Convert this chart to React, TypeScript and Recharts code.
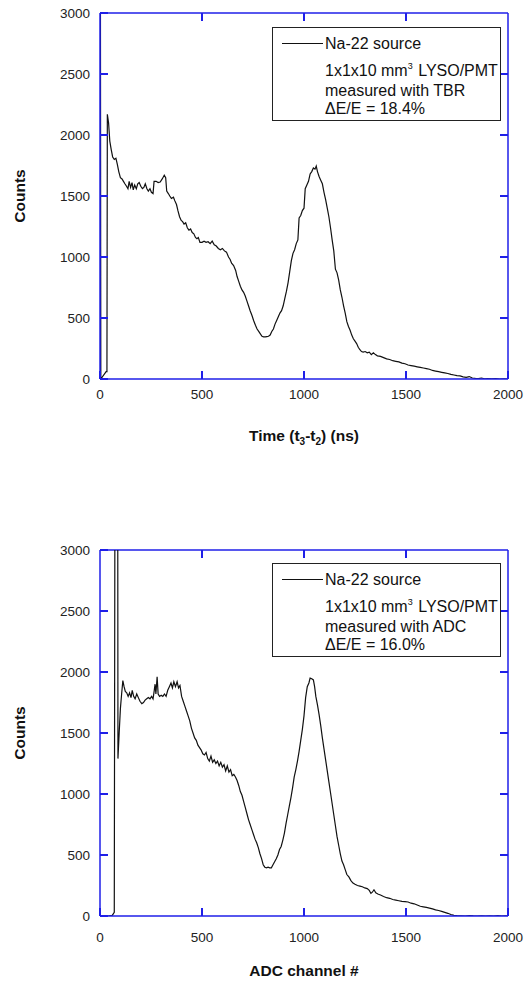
import React from 'react';
import { LineChart, Line, XAxis, YAxis, Legend, ReferenceLine } from 'recharts';

// ---------- data ----------
const xTicks = [0, 500, 1000, 1500, 2000];
const yTicks = [0, 500, 1000, 1500, 2000, 2500, 3000];
const xMax = 2000;
const yMax = 3000;

const tbrX = [0, 2, 4, 30, 34, 36, 42, 48, 55, 62, 70, 78, 85, 92, 100, 108, 115, 122, 130, 137, 143, 150, 157, 163, 170, 178, 185, 192, 200, 208, 215, 222, 230, 237, 245, 252, 260, 265, 275, 285, 295, 305, 315, 322, 327, 335, 342, 350, 360, 367, 375, 382, 390, 398, 405, 412, 420, 428, 436, 444, 452, 460, 468, 475, 482, 490, 500, 510, 520, 530, 540, 550, 560, 570, 580, 590, 600, 610, 620, 630, 638, 645, 655, 665, 672, 680, 688, 696, 704, 712, 720, 728, 736, 745, 753, 762, 770, 778, 786, 794, 802, 810, 818, 826, 834, 842, 850, 858, 866, 874, 882, 890, 898, 906, 914, 922, 930, 938, 946, 954, 962, 970, 976, 984, 992, 1000, 1006, 1014, 1022, 1030, 1038, 1046, 1054, 1060, 1066, 1074, 1082, 1090, 1098, 1106, 1114, 1122, 1130, 1138, 1146, 1154, 1162, 1170, 1178, 1186, 1194, 1202, 1210, 1218, 1226, 1234, 1242, 1250, 1258, 1266, 1274, 1282, 1290, 1300, 1310, 1320, 1330, 1340, 1350, 1360, 1375, 1390, 1405, 1420, 1435, 1450, 1465, 1480, 1495, 1510, 1525, 1540, 1555, 1570, 1585, 1600, 1615, 1630, 1645, 1660, 1675, 1690, 1705, 1720, 1735, 1750, 1765, 1780, 1795, 1810, 1825, 1840, 1855, 1870, 1885, 1900, 1920, 1940, 1960, 1980, 2000];
const tbrCounts = [0, 3300, 0, 60, 60, 2170, 2100, 1950, 1880, 1820, 1800, 1810, 1760, 1700, 1650, 1640, 1620, 1600, 1580, 1560, 1620, 1570, 1610, 1550, 1590, 1560, 1600, 1610, 1580, 1560, 1570, 1600, 1560, 1540, 1560, 1530, 1520, 1620, 1620, 1610, 1615, 1640, 1670, 1650, 1540, 1520, 1500, 1480, 1490, 1460, 1430, 1380, 1330, 1300, 1290, 1270, 1280, 1240, 1220, 1230, 1200, 1190, 1160, 1150, 1160, 1120, 1120, 1130, 1120, 1125, 1110, 1130, 1100, 1090, 1070, 1060, 1070, 1050, 1040, 1000, 980, 950, 930, 890, 840, 800, 760, 730, 710, 680, 640, 600, 560, 520, 480, 440, 410, 390, 370, 350, 345, 345, 348, 350, 360, 390, 410, 450, 480, 510, 540, 560, 600, 660, 720, 790, 880, 970, 1030, 1060, 1110, 1140, 1320, 1340, 1380, 1400, 1560, 1590, 1620, 1680, 1700, 1730, 1720, 1745, 1700, 1660, 1630, 1600, 1530, 1470, 1400, 1330, 1240, 1140, 1050, 900, 870, 810, 730, 670, 600, 540, 470, 430, 400, 360, 330, 310, 290, 260, 240, 225, 220, 225, 215, 220, 200, 215, 200, 190, 185, 175, 165, 160, 150, 145, 140, 130, 125, 115, 110, 105, 100, 95, 90, 85, 80, 70, 65, 60, 55, 50, 45, 38, 33, 28, 25, 18, 14, 20, 8, 5, 3, 8, 2, 4, 1, 3, 0, 1, 0];

const adcX = [0, 20, 40, 60, 70, 73, 87, 88, 94, 100, 106, 112, 118, 124, 131, 138, 145, 152, 158, 165, 172, 180, 188, 196, 205, 213, 221, 229, 237, 245, 253, 260, 266, 270, 274, 280, 285, 292, 300, 308, 316, 324, 332, 340, 348, 355, 362, 370, 378, 385, 392, 400, 408, 416, 424, 432, 440, 448, 456, 464, 472, 480, 488, 496, 504, 512, 520, 528, 536, 544, 552, 560, 568, 576, 584, 592, 600, 608, 616, 624, 632, 640, 648, 656, 664, 672, 680, 688, 696, 704, 712, 720, 728, 736, 744, 752, 760, 768, 776, 784, 792, 800, 808, 816, 824, 832, 840, 848, 856, 864, 872, 880, 888, 896, 904, 912, 920, 928, 936, 944, 952, 960, 968, 976, 984, 992, 1000, 1008, 1016, 1024, 1030, 1038, 1046, 1052, 1058, 1066, 1074, 1082, 1090, 1098, 1106, 1114, 1122, 1130, 1138, 1146, 1154, 1162, 1170, 1178, 1186, 1194, 1202, 1210, 1220, 1230, 1240, 1250, 1262, 1274, 1286, 1298, 1310, 1320, 1328, 1335, 1343, 1352, 1362, 1375, 1390, 1405, 1420, 1435, 1450, 1465, 1480, 1495, 1510, 1525, 1540, 1555, 1570, 1585, 1600, 1615, 1630, 1645, 1660, 1675, 1690, 1705, 1720, 1735, 1750, 1770, 1790, 1810, 1830, 1850, 1870, 1890, 1910, 1930, 1950, 1970, 1990, 2000];
const adcCounts = [0, 2, 0, 5, 30, 3300, 3300, 1290, 1500, 1700, 1820, 1930, 1880, 1840, 1830, 1800, 1830, 1790, 1850, 1800, 1780, 1820, 1790, 1760, 1740, 1750, 1770, 1780, 1790, 1780, 1800, 1780, 1850, 1900, 1820, 1960, 1820, 1800, 1810, 1800, 1820, 1800, 1850, 1880, 1910, 1870, 1920, 1880, 1920, 1870, 1890, 1800, 1760, 1720, 1680, 1640, 1600, 1540, 1500, 1460, 1440, 1400, 1380, 1360, 1330, 1320, 1340, 1290, 1270, 1310, 1260, 1280, 1250, 1270, 1230, 1260, 1220, 1240, 1190, 1230, 1180, 1200, 1150, 1160, 1140, 1110, 1070, 1020, 990, 940, 890, 840, 790, 750, 710, 670, 630, 600, 560, 510, 470, 420, 400, 395, 400, 395, 395, 420, 445, 470, 500, 545, 570, 620, 680, 760, 830, 900, 970, 1050, 1140, 1200, 1270, 1350, 1440, 1530, 1640, 1790, 1880, 1910, 1950, 1945, 1935, 1880, 1800, 1730, 1650, 1560, 1460, 1370, 1280, 1190, 1100, 1010, 920, 830, 740, 650, 580, 510, 450, 420, 380, 340, 320, 290, 270, 260, 250, 245, 240, 230, 225, 210, 185, 195, 215, 190, 180, 172, 160, 150, 145, 135, 130, 125, 120, 118, 115, 105, 100, 90, 80, 75, 70, 65, 58, 50, 45, 38, 30, 22, 12, 5, 3, 2, 0, 3, 1, 0, 2, 0, 1, 0, 3, 0, 1, 0];

const tbrData = tbrX.map((x, i) => ({ x, y: tbrCounts[i] }));
const adcData = adcX.map((x, i) => ({ x, y: adcCounts[i] }));

const BLUE = '#1f1fe8';
const FONT = 'Arial, "Liberation Sans", sans-serif';
const TICK_LEN = 8;
const CHART_W = 528;
const CHART_H = 490;
const M_LEFT = 100;
const M_RIGHT = 20;
const X_AXIS_H = 30;

function LegendBox({ method, res }: { method: string; res: string }) {
  return (
    <div
      style={{
        width: 229,
        height: 94,
        boxSizing: 'border-box',
        border: '1.5px solid #222',
        background: '#fff',
        fontFamily: FONT,
        fontSize: 16,
        color: '#111',
        position: 'relative',
      }}
    >
      <div style={{ position: 'absolute', left: 9, top: 15, width: 41, height: 0, borderTop: '1px solid #111' }} />
      <div style={{ position: 'absolute', left: 52, top: 6, lineHeight: '20px', whiteSpace: 'nowrap' }}>Na-22 source</div>
      <div style={{ position: 'absolute', left: 52, top: 34, lineHeight: '18px', whiteSpace: 'nowrap' }}>
        1x1x10 mm<span style={{ fontSize: 9, position: 'relative', top: -7, marginRight: 1 }}>3</span> LYSO/PMT
        <br />
        measured with {method}
        <br />
        {'\u0394E/E = ' + res}
      </div>
    </div>
  );
}

function Panel({ data, marginTop, marginBottom, tickMarginX, titleOffset, legendTop, method, res }: any) {
  const plotW = CHART_W - M_LEFT - M_RIGHT;
  const plotH = CHART_H - marginTop - marginBottom - X_AXIS_H;
  const dX = (TICK_LEN * xMax) / plotW;
  const dY = (TICK_LEN * yMax) / plotH;
  const ts = { stroke: BLUE, strokeWidth: 2, ifOverflow: 'visible' as const };
  const X1 = xTicks[1], X2 = xTicks[2], X3 = xTicks[3];
  const Y1 = yTicks[1], Y2 = yTicks[2], Y3 = yTicks[3], Y4 = yTicks[4], Y5 = yTicks[5];
  return (
    <LineChart
      width={CHART_W}
      height={CHART_H}
      data={data}
      margin={{ top: marginTop, right: M_RIGHT, bottom: marginBottom, left: 0 }}
    >
      <XAxis
        dataKey="x"
        type="number"
        domain={[0, xMax]}
        ticks={xTicks}
        interval={0}
        allowDataOverflow
        height={X_AXIS_H}
        axisLine={{ stroke: BLUE, strokeWidth: 1.5 }}
        tickLine={{ stroke: BLUE, strokeWidth: 2 }}
        tickSize={-TICK_LEN}
        tickMargin={tickMarginX}
        tick={{ fontSize: 13.5, fill: '#222', fontFamily: FONT }}
        label={{ content: (p: any) => titleOffset.render(p.viewBox || {}) }}
      />
      <YAxis
        type="number"
        domain={[0, yMax]}
        ticks={yTicks}
        interval={0}
        allowDataOverflow
        width={M_LEFT}
        axisLine={{ stroke: BLUE, strokeWidth: 1.5 }}
        tickLine={{ stroke: BLUE, strokeWidth: 2 }}
        tickSize={-TICK_LEN}
        tickMargin={18}
        tick={{ fontSize: 13.5, fill: '#222', fontFamily: FONT }}
        label={{
          content: (p: any) => {
            const vb = p.viewBox || {};
            const cy = (vb.y || 0) + (vb.height || 0) / 2;
            return (
              <text
                x={19}
                y={cy}
                transform={`rotate(-90 19 ${cy})`}
                textAnchor="middle"
                dominantBaseline="central"
                fontFamily={FONT}
                fontWeight="bold"
                fontSize={15.5}
                fill="#111"
              >
                Counts
              </text>
            );
          },
        }}
      />
      <ReferenceLine y={yMax} stroke={BLUE} strokeWidth={1.5} />
      <ReferenceLine x={xMax} stroke={BLUE} strokeWidth={1.5} />
      <ReferenceLine segment={[{ x: X1, y: yMax }, { x: X1, y: yMax - dY }]} {...ts} />
      <ReferenceLine segment={[{ x: X2, y: yMax }, { x: X2, y: yMax - dY }]} {...ts} />
      <ReferenceLine segment={[{ x: X3, y: yMax }, { x: X3, y: yMax - dY }]} {...ts} />
      <ReferenceLine segment={[{ x: X1, y: 0 }, { x: X1, y: dY }]} {...ts} />
      <ReferenceLine segment={[{ x: X2, y: 0 }, { x: X2, y: dY }]} {...ts} />
      <ReferenceLine segment={[{ x: X3, y: 0 }, { x: X3, y: dY }]} {...ts} />
      <ReferenceLine segment={[{ x: xMax - dX, y: Y1 }, { x: xMax, y: Y1 }]} {...ts} />
      <ReferenceLine segment={[{ x: xMax - dX, y: Y2 }, { x: xMax, y: Y2 }]} {...ts} />
      <ReferenceLine segment={[{ x: xMax - dX, y: Y3 }, { x: xMax, y: Y3 }]} {...ts} />
      <ReferenceLine segment={[{ x: xMax - dX, y: Y4 }, { x: xMax, y: Y4 }]} {...ts} />
      <ReferenceLine segment={[{ x: xMax - dX, y: Y5 }, { x: xMax, y: Y5 }]} {...ts} />
      <ReferenceLine segment={[{ x: 0, y: Y1 }, { x: dX, y: Y1 }]} {...ts} />
      <ReferenceLine segment={[{ x: 0, y: Y2 }, { x: dX, y: Y2 }]} {...ts} />
      <ReferenceLine segment={[{ x: 0, y: Y3 }, { x: dX, y: Y3 }]} {...ts} />
      <ReferenceLine segment={[{ x: 0, y: Y4 }, { x: dX, y: Y4 }]} {...ts} />
      <ReferenceLine segment={[{ x: 0, y: Y5 }, { x: dX, y: Y5 }]} {...ts} />
      <Legend
        layout="horizontal"
        align="center"
        verticalAlign="middle"
        wrapperStyle={{ position: 'absolute', left: 272, top: legendTop, width: 229, height: 94 }}
        content={() => <LegendBox method={method} res={res} />}
      />
      <Line
        type="linear"
        dataKey="y"
        name="Na-22 source"
        stroke="#111"
        strokeWidth={1.2}
        dot={false}
        isAnimationActive={false}
      />
    </LineChart>
  );
}

const topTitle = {
  render: (vb: any) => {
    const cx = (vb.x || 0) + (vb.width || 0) / 2;
    const y = (vb.y || 0) + 62;
    return (
      <text x={cx} y={y} textAnchor="middle" fontFamily={FONT} fontWeight="bold" fontSize={15.5} fill="#111">
        Time (t<tspan fontSize={10} dy={4}>3</tspan>
        <tspan dy={-4}>-t</tspan>
        <tspan fontSize={10} dy={4}>2</tspan>
        <tspan dy={-4}>) (ns)</tspan>
      </text>
    );
  },
};

const bottomTitle = {
  render: (vb: any) => {
    const cx = (vb.x || 0) + (vb.width || 0) / 2;
    const y = (vb.y || 0) + 59.5;
    return (
      <text x={cx} y={y} textAnchor="middle" fontFamily={FONT} fontWeight="bold" fontSize={15.5} fill="#111">
        ADC channel #
      </text>
    );
  },
};

export default function App() {
  return (
    <div style={{ position: 'absolute', left: 0, top: 0, width: 528, height: 981, background: '#fff' }}>
      <div style={{ position: 'absolute', left: 0, top: 0 }}>
        <Panel
          data={tbrData}
          marginTop={13}
          marginBottom={81}
          tickMarginX={18}
          titleOffset={topTitle}
          legendTop={27}
          method="TBR"
          res="18.4%"
        />
      </div>
      <div style={{ position: 'absolute', left: 0, top: 490 }}>
        <Panel
          data={adcData}
          marginTop={60}
          marginBottom={34}
          tickMarginX={24}
          titleOffset={bottomTitle}
          legendTop={73}
          method="ADC"
          res="16.0%"
        />
      </div>
    </div>
  );
}
